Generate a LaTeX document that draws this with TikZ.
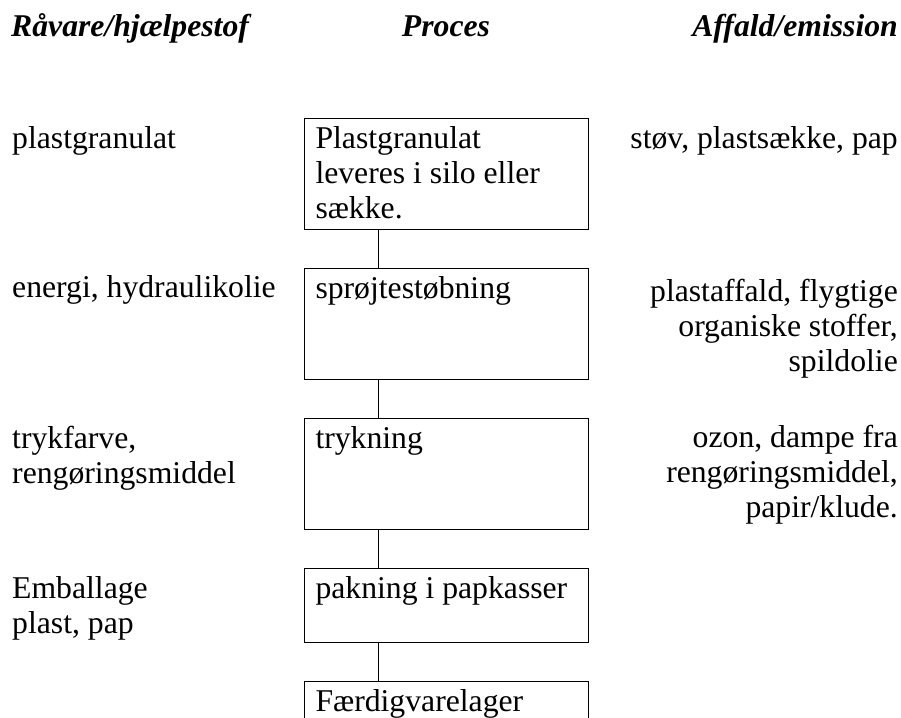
\documentclass[tikz,border=0pt]{standalone}
\usepackage{fontspec}
\setmainfont{Liberation Serif}
\usetikzlibrary{positioning}
\newcommand{\bodyfont}{\fontsize{31.7}{35}\selectfont}
\newcommand{\boxtext}[2]{\begin{minipage}[t][#1][t]{262pt}\raggedright\strut #2\end{minipage}}
\tikzset{
  head/.style={inner sep=0pt, font=\bodyfont\bfseries\itshape},
  lefttext/.style={inner sep=0pt, anchor=base west, align=left, font=\bodyfont},
  righttext/.style={inner sep=0pt, anchor=base east, align=right, font=\bodyfont},
  procbox/.style={draw, line width=1pt, rectangle, anchor=north west, inner xsep=11pt, inner ysep=5.5pt, font=\bodyfont},
  link/.style={line width=1pt}
}
\begin{document}
\begin{tikzpicture}[x=1pt,y=1pt]
\clip (0,0) rectangle (901,-717);
\fill[white] (0,0) rectangle (901,-717);
% headers
\node[head, anchor=base west] (h1) at (11,-37) {Råvare/hjælpestof};
\node[head, anchor=base] (h2) at (446,-37) {Proces};
\node[head, anchor=base east] (h3) at (898,-37) {Affald/emission};
% process boxes
\node[procbox] (b1) at (304,-118) {\boxtext{100pt}{Plastgranulat\newline leveres i silo eller\newline sække.}};
\node[procbox] (b2) at (304,-268) {\boxtext{100pt}{sprøjtestøbning}};
\node[procbox] (b3) at (304,-418) {\boxtext{100pt}{trykning}};
\node[procbox] (b4) at (304,-568) {\boxtext{63pt}{pakning i papkasser}};
\node[procbox] (b5) at (304,-681) {\boxtext{100pt}{Færdigvarelager}};
% connectors
\path (b1.south west) ++(74,0) coordinate (c1);
\path (b2.south west) ++(74,0) coordinate (c2);
\path (b3.south west) ++(74,0) coordinate (c3);
\path (b4.south west) ++(74,0) coordinate (c4);
\draw[link] (c1) -- (c1 |- b2.north);
\draw[link] (c2) -- (c2 |- b3.north);
\draw[link] (c3) -- (c3 |- b4.north);
\draw[link] (c4) -- (c4 |- b5.north);
% inputs (base anchor = baseline of last line)
\node[lefttext] (r1) at (12,-148) {plastgranulat};
\node[lefttext] (r2) at (12,-297) {energi, hydraulikolie};
\node[lefttext] (r3) at (12,-483) {trykfarve,\\rengøringsmiddel};
\node[lefttext] (r4) at (12,-633) {Emballage\\plast, pap};
% outputs
\node[righttext] (a1) at (898,-148) {støv, plastsække, pap};
\node[righttext] (a2) at (898,-371) {plastaffald, flygtige\\organiske stoffer,\\spildolie};
\node[righttext] (a3) at (898,-517) {ozon, dampe fra\\rengøringsmiddel,\\papir/klude.};
\end{tikzpicture}
\end{document}
